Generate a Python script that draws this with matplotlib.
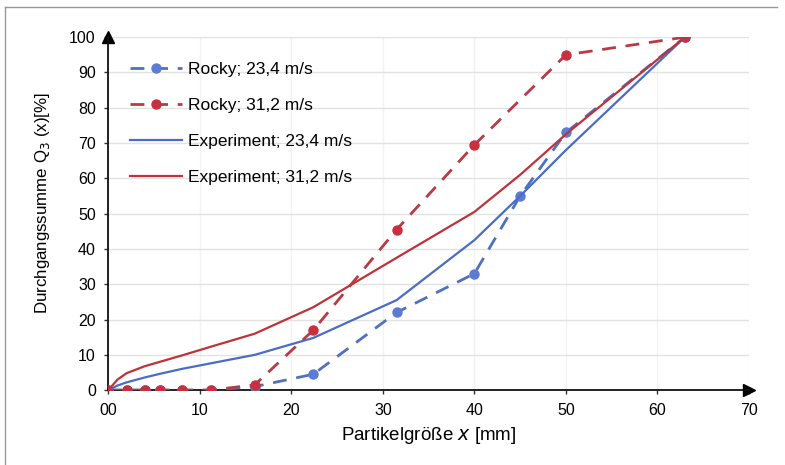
import matplotlib.pyplot as plt
from matplotlib.lines import Line2D

plt.rcParams['font.family'] = ['Liberation Sans', 'DejaVu Sans']

# Siebgrößen [mm]
rocky_x = [0, 2, 4, 5.6, 8, 11.2, 16, 22.4, 31.5, 40, 45, 50, 63]
rocky_234 = [0, 0, 0, 0, 0, 0, 1, 4.5, 22, 33, 55, 73, 100]
rocky_312_x = [0, 2, 4, 5.6, 8, 11.2, 16, 22.4, 31.5, 40, 50, 63]
rocky_312 = [0, 0, 0, 0, 0, 0, 1.5, 17, 45.5, 69.5, 95, 100]

exp_x = [0, 1, 2, 4, 5.6, 8, 11.2, 16, 22.4, 31.5, 40, 45, 50, 63]
exp_234 = [0, 1.3, 2.2, 3.6, 4.6, 6, 7.6, 10, 14.8, 25.5, 42.5, 55, 68, 100]
exp_312 = [0, 3, 4.8, 6.8, 8, 9.8, 12.3, 16, 23.5, 37.5, 50.5, 61, 72.5, 100]

x_ticks = [0, 10, 20, 30, 40, 50, 60, 70]
x_ticklabels = ['00', '10', '20', '30', '40', '50', '60', '70']
y_ticks = list(range(0, 101, 10))

blue = '#4a6cc4'
red = '#c0323a'
blue_d = '#5070c0'
red_d = '#b83a44'

fig = plt.figure(figsize=(7.85, 4.65), dpi=100)
ax = fig.add_axes([0.138, 0.161, 0.816, 0.759])

# Rahmen (oben und links)
fig.add_artist(Line2D([0.007, 0.99], [0.985, 0.985], color='#999999', lw=1))
fig.add_artist(Line2D([0.007, 0.007], [0.0, 0.985], color='#999999', lw=1))

ax.plot(rocky_x, rocky_234, color=blue_d, ls=(0, (5, 3.5)), lw=2, marker='o',
        ms=6.5, mfc='#5b7bd5', mec='#5b7bd5', label='Rocky; 23,4 m/s', zorder=3)
ax.plot(rocky_312_x, rocky_312, color=red_d, ls=(0, (5, 3.5)), lw=2, marker='o',
        ms=6.5, mfc='#c83040', mec='#c83040', label='Rocky; 31,2 m/s', zorder=4)
ax.plot(exp_x, exp_234, color=blue, lw=1.6, label='Experiment; 23,4 m/s', zorder=5)
ax.plot(exp_x, exp_312, color=red, lw=1.6, label='Experiment; 31,2 m/s', zorder=5)

ax.set_xlim(0, 70)
ax.set_ylim(0, 100)
ax.set_xticks(x_ticks, labels=x_ticklabels)
ax.set_yticks(y_ticks)
ax.tick_params(labelsize=11.5, length=3, width=1, color='#333333', pad=6)

ax.yaxis.grid(True, color='#e2e2e2', lw=1)
ax.xaxis.grid(True, color='#f2f2f2', lw=1)
ax.set_axisbelow(True)
for s in ['top', 'right']:
    ax.spines[s].set_visible(False)
for s in ['left', 'bottom']:
    ax.spines[s].set_linewidth(1.3)
    ax.spines[s].set_color('#111111')

# Pfeilspitzen an den Achsen
ax.plot(1, 0, '>k', ms=8, transform=ax.transAxes, clip_on=False)
ax.plot(0, 1, '^k', ms=8, transform=ax.transAxes, clip_on=False)

ax.set_xlabel('Partikelgröße $\\it{x}$ [mm]', fontsize=13.5, labelpad=5)
ax.set_ylabel('Durchgangssumme Q$_3$ (x)[%]', fontsize=12.2)
ax.yaxis.set_label_coords(-0.088, 0.53)

ax.legend(loc='upper left', bbox_to_anchor=(0.01, 0.975), frameon=False,
          fontsize=12.5, handlelength=3.0, labelspacing=1.2, handletextpad=0.3)

fig.savefig('out.png', dpi=100, facecolor='white')
